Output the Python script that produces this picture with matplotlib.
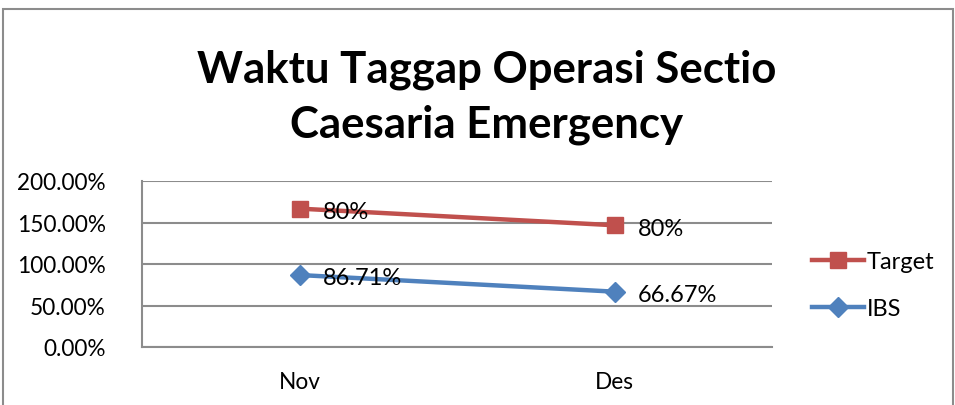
import matplotlib
matplotlib.use("Agg")
import matplotlib.pyplot as plt
from matplotlib.patches import Rectangle
from matplotlib.ticker import FuncFormatter

categories = ["Nov", "Des"]
ibs = [86.71, 66.67]
target = [80, 80]
ibs_labels = ["86.71%", "66.67%"]
target_labels = ["80%", "80%"]
yticks = [0, 50, 100, 150, 200]

stacked_target = [a + b for a, b in zip(ibs, target)]

plt.rcParams['font.family'] = ['Lato', 'DejaVu Sans']

W, H = 955, 406
fig = plt.figure(figsize=(W / 100, H / 100), dpi=100)
fig.patch.set_facecolor("white")

# outer chart border
fig.patches.append(Rectangle((3 / W, -0.05), 950 / W, 1 - 10 / H + 0.05,
                             transform=fig.transFigure, fill=False,
                             edgecolor="#8c8c8c", linewidth=1.5, clip_on=False))

left, right, top, bottom = 142, 772, 182, 348
ax = fig.add_axes([left / W, 1 - bottom / H, (right - left) / W, (bottom - top) / H])
x = [0.5, 1.5]
ax.set_xlim(0, 2)
ax.set_ylim(0, 200)
ax.set_yticks(yticks)
ax.yaxis.set_major_formatter(FuncFormatter(lambda v, p: f"{v:.2f}%"))
ax.set_xticks(x)
ax.set_xticklabels(categories)
ax.tick_params(axis="both", length=0, labelsize=16.3, colors="black")
ax.tick_params(axis="y", pad=26)
ax.tick_params(axis="x", pad=17)
ax.grid(axis="y", color="#8c8c8c", linewidth=1.5)
ax.set_axisbelow(True)
for s in ["top", "right"]:
    ax.spines[s].set_visible(False)
for s in ["left", "bottom"]:
    ax.spines[s].set_color("#8c8c8c")
    ax.spines[s].set_linewidth(1.5)

red = "#C0504D"
blue = "#4F81BD"
ax.plot(x, stacked_target, color=red, linewidth=3.2, marker="s", markersize=12,
        label="Target", clip_on=False, zorder=3)
ax.plot(x, ibs, color=blue, linewidth=3.2, marker="D", markersize=10,
        label="IBS", clip_on=False, zorder=3)

for xi, yi, t in zip(x, stacked_target, target_labels):
    ax.annotate(t, (xi, yi), xytext=(17, -2), textcoords="offset points",
                ha="left", va="center", fontsize=17, zorder=4)
for xi, yi, t in zip(x, ibs, ibs_labels):
    ax.annotate(t, (xi, yi), xytext=(17, -2), textcoords="offset points",
                ha="left", va="center", fontsize=17, zorder=4)

handles, labels = ax.get_legend_handles_labels()
leg = fig.legend(handles, labels, loc="center left",
                 bbox_to_anchor=(803 / W, 1 - 286 / H), frameon=False,
                 fontsize=17, handlelength=2.2, handletextpad=0.1,
                 labelspacing=1.1, borderaxespad=0)

fig.text(487 / W, 1 - 70 / H, "Waktu Taggap Operasi Sectio", ha="center",
         va="center", fontsize=31.5, fontweight="bold")
fig.text(487 / W, 1 - 125 / H, "Caesaria Emergency", ha="center",
         va="center", fontsize=31.5, fontweight="bold")

fig.savefig("out.png", dpi=100, facecolor="white")
